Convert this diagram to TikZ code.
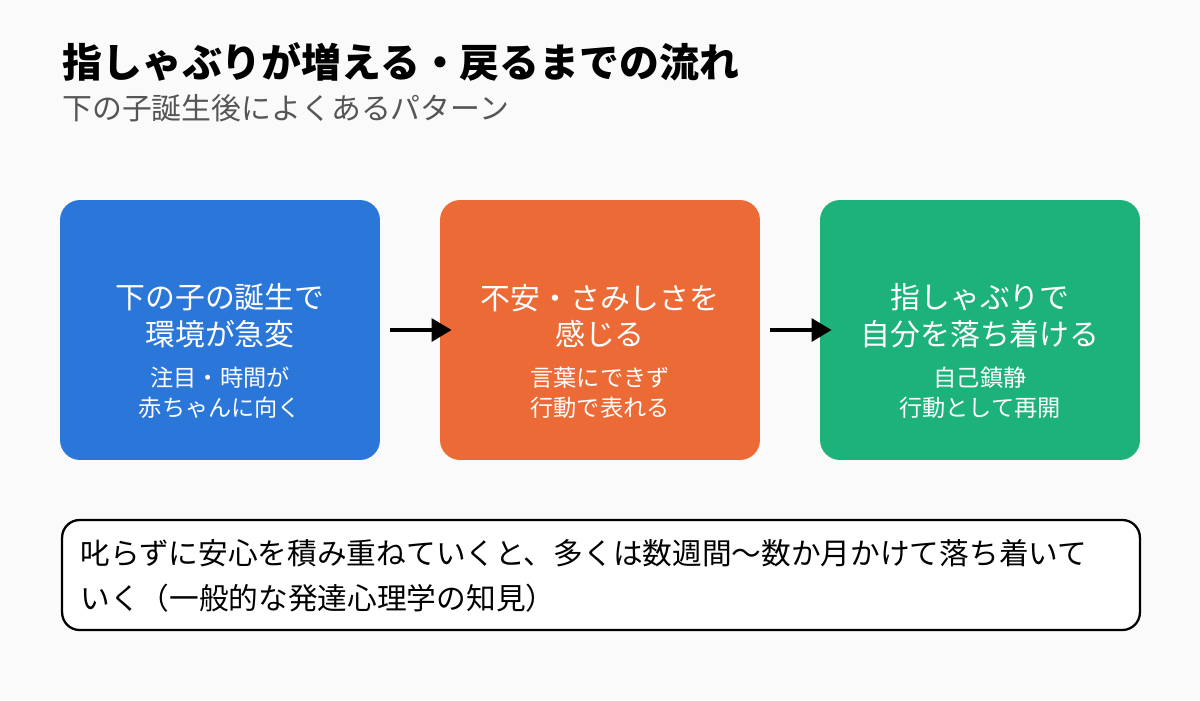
\documentclass[tikz,border=0pt]{standalone}
\usepackage{fontspec}
\setmainfont{Noto Sans CJK JP}
\usetikzlibrary{arrows.meta}
\definecolor{stepblue}{HTML}{2B77D9}
\definecolor{steporange}{HTML}{EC6A36}
\definecolor{stepgreen}{HTML}{1DB27A}
\definecolor{subgray}{HTML}{555555}
\definecolor{paper}{HTML}{FAFAFA}
\begin{document}
\begin{tikzpicture}[x=0.02cm, y=-0.02cm,
                    card/.style = {rounded corners=0.4cm, minimum width=6.4cm, minimum height=5.2cm, inner sep=0pt},
                    head/.style = {text=white, font=\fontsize{17}{21}\selectfont, align=center},
                    note/.style = {text=white, font=\fontsize{13.2}{17}\selectfont, align=center},
                    flow/.style = {line width=2.5pt, -{Triangle[length=0.4cm, width=0.45cm]}}]
    \fill [paper] (0,0) rectangle (1200,700);
    \node [anchor=west, inner sep=0pt, font=\bfseries\fontsize{22.7}{26}\selectfont] (title) at (62,62) {指しゃぶりが増える・戻るまでの流れ};
    \node [anchor=west, inner sep=0pt, text=subgray, font=\fontsize{17}{20}\selectfont] (sub) at (62,108) {下の子誕生後によくあるパターン};
    \node [card, fill=stepblue] (s1) at (220,330) {};
    \node [card, fill=steporange] (s2) at (600,330) {};
    \node [card, fill=stepgreen] (s3) at (980,330) {};
    \node [head] at (220,316) {下の子の誕生で\\環境が急変};
    \node [note] at (220,393) {注目・時間が\\赤ちゃんに向く};
    \node [head] at (600,316) {不安・さみしさを\\感じる};
    \node [note] at (600,393) {言葉にできず\\行動で表れる};
    \node [head] at (980,316) {指しゃぶりで\\自分を落ち着ける};
    \node [note] at (980,393) {自己鎮静\\行動として再開};
    \draw [flow] ([xshift=0.2cm]s1.east) -- ([xshift=0.24cm]s2.west);
    \draw [flow] ([xshift=0.2cm]s2.east) -- ([xshift=0.24cm]s3.west);
    \node [draw, line width=1.3pt, fill=white, rounded corners=0.35cm, minimum width=21.56cm, minimum height=2.2cm] (memo) at (601,575) {};
    \node [anchor=west, inner sep=0pt, align=left, font=\fontsize{16.9}{25.6}\selectfont] at (80,576) {叱らずに安心を積み重ねていくと、多くは数週間〜数か月かけて落ち着いて\\いく（一般的な発達心理学の知見）};
\end{tikzpicture}
\end{document}
